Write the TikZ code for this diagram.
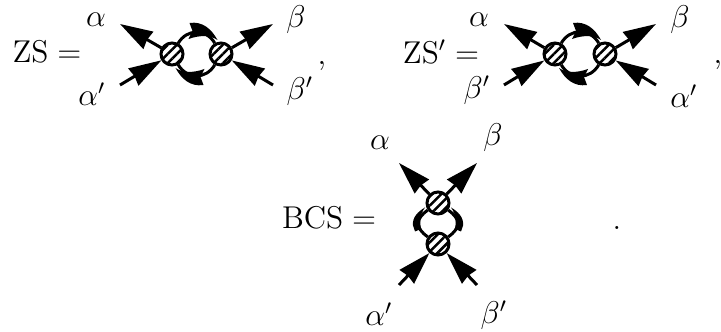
\documentclass[tikz,border=0pt,12pt]{standalone}
\usepackage{amsmath,amssymb}
\usepackage{tikz}
\usetikzlibrary{arrows.meta,patterns.meta}
\tikzset{
  blob/.style={draw, circle, line width=1.2pt, minimum size=8.8pt, inner sep=0pt,
    pattern={Lines[angle=45,distance=2.6pt,line width=1pt]}},
  legtip/.style={line width=1.2pt, -{Stealth[length=13pt,width=7.8pt,inset=0.5pt]}},
  arcline/.style={line width=1.2pt},
  lbl/.style={inner sep=0pt, scale=1.05},
  pics/zswedge/.style={code={
    \fill (-7,-31) .. controls (6,-33) and (15,-25) .. (21,-14)
      .. controls (14,-19) and (3,-19) .. (-8,-15) -- (-4,-23) -- cycle;
  }},
  pics/bcswedge/.style={code={
    \fill (-13,-16) .. controls (-20,-12) and (-26,-6) .. (-25,2) -- (-23,8)
      -- (-18,6) -- (-15,10) .. controls (-19,2) and (-19,-8) .. cycle;
  }}
}
\begin{document}
\begin{tikzpicture}[x=0.4pt,y=-0.4pt]
  \useasboundingbox (0,0) rectangle (721,332);
  % top left
  \node[lbl] (zs) at (47,52) {ZS$\;=$};
  \node[blob] (zsa) at (172,54) {};
  \node[blob] (zsb) at (221,54) {};
  \draw[arcline] (zsa) to[out=-60,in=-120,looseness=1.2] (zsb);
  \draw[arcline] (zsa) to[out=60,in=120,looseness=1.2] (zsb);
  \pic at (196.5,54) {zswedge};
  \pic[rotate=180] at (196.5,54) {zswedge};
  \coordinate (zsul) at (120,24); \coordinate (zsll) at (120,85);
  \coordinate (zsur) at (273,24); \coordinate (zsdr) at (273,85);
  \draw[legtip] (zsa) -- (zsul); \draw[legtip] (zsll) -- (zsa);
  \draw[legtip] (zsb) -- (zsur); \draw[legtip] (zsdr) -- (zsb);
  \node[lbl] (zsal) at (96,20) {$\alpha$};
  \node[lbl] (zsap) at (92,94) {$\alpha'$};
  \node[lbl] (zsbe) at (296,20) {$\beta$};
  \node[lbl] (zsbp) at (300,91) {$\beta'$};
  \node[lbl] (zsco) at (322,66) {,};
  % top right
  \node[lbl] (zp) at (441,52) {ZS$'=$};
  \node[blob] (zpa) at (555,54) {};
  \node[blob] (zpb) at (605,54) {};
  \draw[arcline] (zpa) to[out=-60,in=-120,looseness=1.2] (zpb);
  \draw[arcline] (zpa) to[out=60,in=120,looseness=1.2] (zpb);
  \pic at (580,54) {zswedge};
  \pic[rotate=180] at (580,54) {zswedge};
  \coordinate (zpul) at (504,24); \coordinate (zpll) at (504,85);
  \coordinate (zpur) at (656,24); \coordinate (zpdr) at (656,85);
  \draw[legtip] (zpa) -- (zpul); \draw[legtip] (zpll) -- (zpa);
  \draw[legtip] (zpb) -- (zpur); \draw[legtip] (zpdr) -- (zpb);
  \node[lbl] (zpal) at (479,20) {$\alpha$};
  \node[lbl] (zpbp) at (477,90) {$\beta'$};
  \node[lbl] (zpbe) at (680,20) {$\beta$};
  \node[lbl] (zpap) at (684,96) {$\alpha'$};
  \node[lbl] (zpco) at (718,65) {,};
  % bottom
  \node[lbl] (bc) at (329,218) {BCS$\;=$};
  \node[blob] (bca) at (438,203) {};
  \node[blob] (bcb) at (438,244) {};
  \draw[arcline] (bca) to[out=-145,in=145,looseness=1.5] (bcb);
  \draw[arcline] (bca) to[out=-35,in=35,looseness=1.5] (bcb);
  \pic at (438,223.5) {bcswedge};
  \pic[xscale=-1] at (438,223.5) {bcswedge};
  \coordinate (bcul) at (399,163); \coordinate (bcur) at (477,163);
  \coordinate (bcll) at (399,285); \coordinate (bcdr) at (477,285);
  \draw[legtip] (bca) -- (bcul); \draw[legtip] (bca) -- (bcur);
  \draw[legtip] (bcll) -- (bcb); \draw[legtip] (bcdr) -- (bcb);
  \node[lbl] (bcal) at (380,143) {$\alpha$};
  \node[lbl] (bcbe) at (493,138) {$\beta$};
  \node[lbl] (bcap) at (379,314) {$\alpha'$};
  \node[lbl] (bcbp) at (494,315) {$\beta'$};
  \node[lbl] (bcdo) at (617,228) {.};
\end{tikzpicture}
\end{document}
